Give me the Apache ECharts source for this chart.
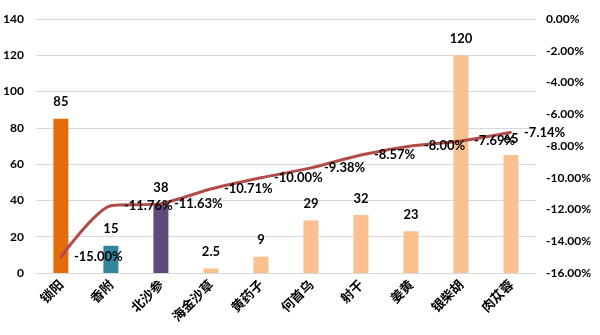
<!DOCTYPE html>
<html>
<head>
<meta charset="utf-8">
<script src="https://cdn.jsdelivr.net/npm/echarts@6/dist/echarts.min.js"></script>
<style>html,body{margin:0;padding:0;background:#fff}#c{width:600px;height:335px}</style>
</head>
<body>
<div id="c"></div>
<script>
// herb names along the x axis
const categories = ['锁阳', '香附', '北沙参', '海金沙草', '黄药子', '何首乌', '射干', '姜黄', '银柴胡', '肉苁蓉'];
// bar values (left axis)
const barValues = [85, 15, 38, 2.5, 9, 29, 32, 23, 120, 65];
// change rate in percent (right axis)
const rateValues = [-15.00, -11.76, -11.63, -10.71, -10.00, -9.38, -8.57, -8.00, -7.69, -7.14];
// left and right tick settings
const leftTicks = { min: 0, max: 140, interval: 20 };
const rightTicks = { min: -16, max: 0, interval: 2 };

const barColors = ['#E46C0A', '#31859C', '#604A7B', '#FAC090', '#FAC090', '#FAC090', '#FAC090', '#FAC090', '#FAC090', '#FAC090'];
const numFont = 'Lato, "Open Sans", sans-serif';

const chart = echarts.init(document.getElementById('c'), null, { renderer: 'canvas' });
chart.setOption({
  animation: false,
  backgroundColor: '#fff',
  grid: { left: 35, right: 64, top: 19, bottom: 62 },
  xAxis: {
    type: 'category',
    data: categories,
    axisLine: { lineStyle: { color: '#d9d9d9', width: 1 } },
    axisTick: { show: false },
    axisLabel: {
      rotate: 45, interval: 0, margin: 9,
      color: '#000', fontWeight: 'bold', fontSize: 13,
      fontFamily: '"Noto Sans CJK SC", sans-serif'
    }
  },
  yAxis: [
    {
      type: 'value', min: leftTicks.min, max: leftTicks.max, interval: leftTicks.interval,
      axisLine: { show: false }, axisTick: { show: false },
      splitLine: { lineStyle: { color: '#d9d9d9', width: 1 } },
      axisLabel: { color: '#000', fontWeight: 'bold', fontSize: 12, fontFamily: numFont, margin: 12 }
    },
    {
      type: 'value', min: rightTicks.min, max: rightTicks.max, interval: rightTicks.interval,
      axisLine: { show: false }, axisTick: { show: false }, splitLine: { show: false },
      axisLabel: {
        color: '#000', fontWeight: 'bold', fontSize: 12, fontFamily: numFont, margin: 10,
        formatter: v => v.toFixed(2) + '%'
      }
    }
  ],
  series: [
    {
      type: 'bar',
      data: barValues.map((v, i) => ({ value: v, itemStyle: { color: barColors[i] } })),
      barWidth: 15,
      label: {
        show: true, position: 'top', distance: 10,
        color: '#000', fontWeight: 'bold', fontSize: 13, fontFamily: numFont
      }
    },
    {
      type: 'line',
      yAxisIndex: 1,
      data: rateValues,
      smooth: 0.25,
      symbol: 'circle',
      symbolSize: 2,
      showSymbol: true,
      showAllSymbol: true,
      itemStyle: { color: '#B24C49' },
      lineStyle: { color: '#B24C49', width: 3 },
      label: {
        show: true, position: 'right', distance: 12,
        color: '#000', fontWeight: 'bold', fontSize: 13, fontFamily: numFont,
        formatter: p => p.value.toFixed(2) + '%'
      },
      labelLayout: { hideOverlap: false },
      z: 3
    }
  ]
});
</script>
</body>
</html>
